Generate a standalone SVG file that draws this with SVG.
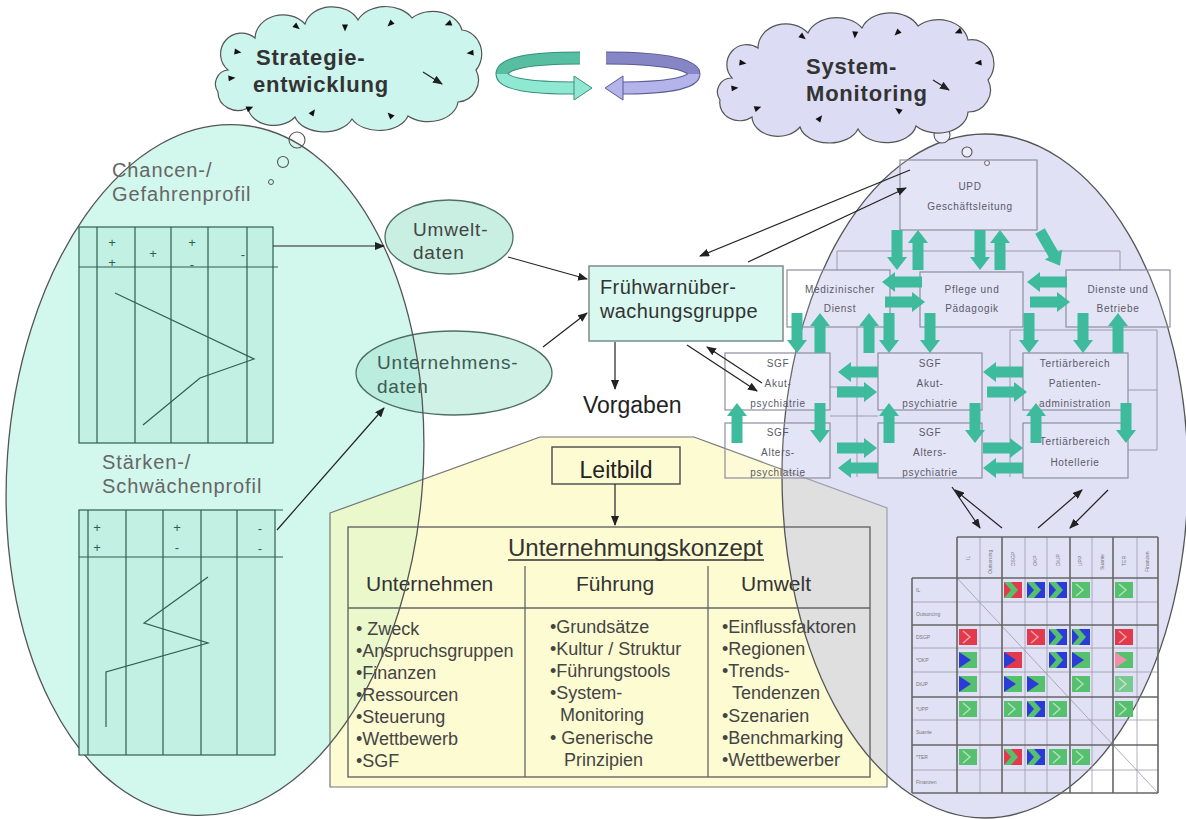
<svg xmlns="http://www.w3.org/2000/svg" width="1186" height="819" viewBox="0 0 1186 819">
<defs>
  <marker id="ah" markerWidth="10" markerHeight="8" refX="9" refY="4" orient="auto" markerUnits="userSpaceOnUse">
    <path d="M0,0 L10,4 L0,8 Z" fill="#222"/>
  </marker>
  <path id="ba" d="M0,-5.5 H27 V-10 L40,0 L27,10 V5.5 H0 Z"/>
  <path id="tri" d="M-3.5,-3 L3.5,0 L-3.5,3 Z"/>
  <ellipse id="leftEll" cx="215" cy="470" rx="208" ry="346" transform="rotate(4 215 470)"/>
  <ellipse id="rightEll" cx="985" cy="476" rx="203" ry="342"/>
</defs>
<style>
  .ln{stroke:#222;stroke-width:1.2;fill:none}
  .ga{fill:#3dbb9c}
  .obox{fill:#ffffff;fill-opacity:0.12;stroke:#8e8ea0;stroke-width:1.2}
  .frame{fill:none;stroke:#9a9aaa;stroke-width:1}
  .sm{font-family:"Liberation Sans",Arial,sans-serif;font-size:10px;fill:#5a5a66;text-anchor:middle;letter-spacing:0.7px}
  .tb{fill:#c2f0e2;stroke:#2f5f50;stroke-width:1.2}
  .tl{stroke:#2f5f50;stroke-width:1.2;fill:none}
  .sg{font-family:"Liberation Sans",Arial,sans-serif;font-size:13px;fill:#2f5f50;text-anchor:middle}
  .lbl{font-family:"Liberation Sans",Arial,sans-serif;font-size:20px;fill:#666;letter-spacing:0.9px}
  .nd{font-family:"Liberation Sans",Arial,sans-serif;font-size:19px;fill:#444;letter-spacing:0.8px}
  .cl{font-family:"Liberation Sans",Arial,sans-serif;font-size:22px;font-weight:bold;fill:#333;letter-spacing:0.8px}
  .kh{font-family:"Liberation Sans",Arial,sans-serif;font-size:21px;fill:#333}
  .kl{font-family:"Liberation Sans",Arial,sans-serif;font-size:18px;fill:#444}
  .mx{stroke:#9a9aa8;stroke-width:0.8;fill:none}
  .mX{stroke:#666;stroke-width:1.6;fill:none}
  .mt{font-family:"Liberation Sans",Arial,sans-serif;font-size:5px;fill:#777}
  .cg{fill:#55c06e}.cr{fill:#e23a4c}.cb{fill:#2b3bd8}.cp{fill:#f08fa8}
  .hl{fill:none;stroke:#fff;stroke-opacity:0.55;stroke-width:1.4}
</style>

<!-- left ellipse background -->
<g id="analyse-ellipse-fill">
  <use href="#leftEll" fill="#d2f7ed"/>
</g>

<!-- Leitbild house -->
<g id="leitbild-house">
  <polygon points="330,513 540,437 694,437 887,508 887,787 330,787" fill="#fcf8b4" fill-opacity="0.6" stroke="#777" stroke-width="1.2"/>
  <rect x="552" y="447" width="128" height="37" fill="none" stroke="#555" stroke-width="1.5"/>
  <text x="616" y="478" font-family="Liberation Sans, Arial, sans-serif" font-size="23" fill="#222" text-anchor="middle">Leitbild</text>
</g>

<!-- right ellipse background -->
<g id="monitoring-ellipse-fill">
  <use href="#rightEll" fill="#c3c3ee" fill-opacity="0.5"/>
</g>

<g id="unternehmungskonzept">
  <rect x="348" y="527" width="522" height="250" fill="none" stroke="#666" stroke-width="1.4"/>
  <text x="508" y="556" font-family="Liberation Sans, Arial, sans-serif" font-size="24" fill="#333">Unternehmungskonzept</text>
  <line x1="508" y1="560" x2="764" y2="560" stroke="#333" stroke-width="1.3"/>
  <line x1="525" y1="566" x2="525" y2="777" stroke="#666" stroke-width="1.3"/>
  <line x1="708" y1="566" x2="708" y2="777" stroke="#666" stroke-width="1.3"/>
  <line x1="348" y1="608" x2="870" y2="608" stroke="#666" stroke-width="1.3"/>
  <text class="kh" x="366" y="591">Unternehmen</text>
  <text class="kh" x="576" y="591">Führung</text>
  <text class="kh" x="741" y="591">Umwelt</text>
  <text class="kl" x="356"><tspan x="356" y="635">• Zweck</tspan><tspan x="356" y="657">•Anspruchsgruppen</tspan><tspan x="356" y="679">•Finanzen</tspan><tspan x="356" y="701">•Ressourcen</tspan><tspan x="356" y="723">•Steuerung</tspan><tspan x="356" y="745">•Wettbewerb</tspan><tspan x="356" y="767">•SGF</tspan></text>
  <text class="kl" x="550"><tspan x="550" y="633">•Grundsätze</tspan><tspan x="550" y="655">•Kultur / Struktur</tspan><tspan x="550" y="677">•Führungstools</tspan><tspan x="550" y="699">•System-</tspan><tspan x="560" y="721">Monitoring</tspan><tspan x="550" y="744">• Generische</tspan><tspan x="564" y="766">Prinzipien</tspan></text>
  <text class="kl" x="722"><tspan x="722" y="633">•Einflussfaktoren</tspan><tspan x="722" y="655">•Regionen</tspan><tspan x="722" y="677">•Trends-</tspan><tspan x="732" y="699">Tendenzen</tspan><tspan x="722" y="722">•Szenarien</tspan><tspan x="722" y="744">•Benchmarking</tspan><tspan x="722" y="766">•Wettbewerber</tspan></text>
</g>

<!-- data ellipses -->
<g id="umweltdaten">
  <ellipse cx="449" cy="237" rx="64" ry="37" fill="#c9efe3" stroke="#4f6f66" stroke-width="1.3"/>
  <text class="nd"><tspan x="413" y="236">Umwelt-</tspan><tspan x="413" y="259">daten</tspan></text>
</g>
<g id="unternehmensdaten">
  <ellipse cx="454" cy="373" rx="98" ry="42" fill="#a8e6d2" fill-opacity="0.55" stroke="#4f6f66" stroke-width="1.3"/>
  <text class="nd" fill="#3d5a54" style="fill:#3d5a54"><tspan x="377" y="369">Unternehmens-</tspan><tspan x="377" y="393">daten</tspan></text>
</g>

<!-- left ellipse outline -->
<g id="analyse-ellipse">
  <use href="#leftEll" fill="none" stroke="#555" stroke-width="1.3"/>
  <circle cx="297" cy="140" r="8" fill="none" stroke="#555" stroke-width="1.1"/>
  <circle cx="283" cy="162" r="5.5" fill="none" stroke="#555" stroke-width="1.1"/>
  <circle cx="271" cy="182" r="2.5" fill="none" stroke="#555" stroke-width="1"/>
</g>
<g id="chancen-profil">
  <text class="lbl"><tspan x="112" y="177">Chancen-/</tspan><tspan x="112" y="201">Gefahrenprofil</tspan></text>
  <rect class="tb" x="79" y="227" width="194" height="216"/>
  <path class="tl" d="M97,227V443M135,227V443M171,227V443M208,227V443M247,227V443M79,267H278"/>
  <text class="sg" x="112" y="247">+</text><text class="sg" x="112" y="267">+</text>
  <text class="sg" x="153" y="258">+</text><text class="sg" x="192" y="247">+</text>
  <text class="sg" x="192" y="269">-</text><text class="sg" x="243" y="259">-</text>
  <polyline class="tl" points="115,293 254,359 200,378 143,425"/>
</g>
<g id="staerken-profil">
  <text class="lbl"><tspan x="102" y="469">Stärken-/</tspan><tspan x="102" y="493">Schwächenprofil</tspan></text>
  <rect class="tb" x="79" y="510" width="196" height="245"/>
  <path class="tl" d="M88,510V755M126,510V755M163,510V755M201,510V755M237,510V755M79,557H283M275,510H283"/>
  <text class="sg" x="97" y="532">+</text><text class="sg" x="97" y="552">+</text>
  <text class="sg" x="177" y="532">+</text><text class="sg" x="177" y="552">-</text>
  <text class="sg" x="260" y="533">-</text><text class="sg" x="260" y="553">-</text>
  <polyline class="tl" points="208,577 144,623 208,643 106,672 106,727"/>
</g>

<!-- right ellipse outline -->
<g id="monitoring-ellipse">
  <use href="#rightEll" fill="none" stroke="#555" stroke-width="1.3"/>
  <circle cx="942" cy="135" r="8" fill="#ececfa" stroke="#555" stroke-width="1.1"/>
  <circle cx="967" cy="152" r="5" fill="#ececfa" stroke="#555" stroke-width="1.1"/>
  <circle cx="987" cy="163" r="2.5" fill="#ececfa" stroke="#555" stroke-width="1"/>
</g>

<!-- org chart -->
<g id="org-frames">
  <path class="frame" d="M837,270V251H1120V270M857,327V477M1010,330V477M1010,330H1157V450H1128M1128,390H1157M830,387H857M830,416H878"/>
</g>
<g id="upd"><rect class="obox" x="900" y="160" width="137" height="70"/><text class="sm"><tspan x="970" y="190">UPD</tspan><tspan x="970" y="210">Geschäftsleitung</tspan></text></g>
<g id="med"><rect class="obox" x="787" y="270" width="103" height="57"/><text class="sm"><tspan x="840" y="293">Medizinischer</tspan><tspan x="840" y="312">Dienst</tspan></text></g>
<g id="pflege"><rect class="obox" x="920" y="272" width="103" height="55"/><text class="sm"><tspan x="972" y="293">Pflege und</tspan><tspan x="972" y="312">Pädagogik</tspan></text></g>
<g id="dienste"><rect class="obox" x="1066" y="270" width="104" height="57"/><text class="sm"><tspan x="1118" y="293">Dienste und</tspan><tspan x="1118" y="312">Betriebe</tspan></text></g>
<g id="sgf-akut-1"><rect class="obox" x="725" y="353" width="105" height="57"/><text class="sm"><tspan x="778" y="367">SGF</tspan><tspan x="778" y="387">Akut-</tspan><tspan x="778" y="407">psychiatrie</tspan></text></g>
<g id="sgf-alters-1"><rect class="obox" x="725" y="423" width="105" height="55"/><text class="sm"><tspan x="778" y="436">SGF</tspan><tspan x="778" y="456">Alters-</tspan><tspan x="778" y="476">psychiatrie</tspan></text></g>
<g id="sgf-akut-2"><rect class="obox" x="878" y="353" width="104" height="57"/><text class="sm"><tspan x="930" y="367">SGF</tspan><tspan x="930" y="387">Akut-</tspan><tspan x="930" y="407">psychiatrie</tspan></text></g>
<g id="sgf-alters-2"><rect class="obox" x="878" y="423" width="104" height="55"/><text class="sm"><tspan x="930" y="436">SGF</tspan><tspan x="930" y="456">Alters-</tspan><tspan x="930" y="476">psychiatrie</tspan></text></g>
<g id="tert-patienten"><rect class="obox" x="1023" y="353" width="105" height="57"/><text class="sm"><tspan x="1075" y="367">Tertiärbereich</tspan><tspan x="1075" y="387">Patienten-</tspan><tspan x="1075" y="407">administration</tspan></text></g>
<g id="tert-hotellerie"><rect class="obox" x="1023" y="423" width="105" height="55"/><text class="sm"><tspan x="1075" y="445">Tertiärbereich</tspan><tspan x="1075" y="466">Hotellerie</tspan></text></g>

<g id="block-arrows" class="ga">
  <use href="#ba" transform="translate(897,230) rotate(90)"/>
  <use href="#ba" transform="translate(918,270) rotate(-90)"/>
  <use href="#ba" transform="translate(980,230) rotate(90)"/>
  <use href="#ba" transform="translate(1000,270) rotate(-90)"/>
  <use href="#ba" transform="translate(1040,231) rotate(60)"/>
  <use href="#ba" transform="translate(797,313) rotate(90)"/>
  <use href="#ba" transform="translate(820,353) rotate(-90)"/>
  <use href="#ba" transform="translate(869,353) rotate(-90)"/>
  <use href="#ba" transform="translate(889,313) rotate(90)"/>
  <use href="#ba" transform="translate(930,313) rotate(90)"/>
  <use href="#ba" transform="translate(1029,313) rotate(90)"/>
  <use href="#ba" transform="translate(1083,313) rotate(90)"/>
  <use href="#ba" transform="translate(1118,353) rotate(-90)"/>
  <use href="#ba" transform="translate(737,443) rotate(-90)"/>
  <use href="#ba" transform="translate(820,403) rotate(90)"/>
  <use href="#ba" transform="translate(889,443) rotate(-90)"/>
  <use href="#ba" transform="translate(975,403) rotate(90)"/>
  <use href="#ba" transform="translate(1036,443) rotate(-90)"/>
  <use href="#ba" transform="translate(1126,403) rotate(90)"/>
  <use href="#ba" transform="translate(922,282) rotate(180)"/>
  <use href="#ba" transform="translate(885,302)"/>
  <use href="#ba" transform="translate(1067,282) rotate(180)"/>
  <use href="#ba" transform="translate(1030,302)"/>
  <use href="#ba" transform="translate(878,372) rotate(180)"/>
  <use href="#ba" transform="translate(837,392)"/>
  <use href="#ba" transform="translate(1023,372) rotate(180)"/>
  <use href="#ba" transform="translate(987,392)"/>
  <use href="#ba" transform="translate(837,448)"/>
  <use href="#ba" transform="translate(878,468) rotate(180)"/>
  <use href="#ba" transform="translate(983,448)"/>
  <use href="#ba" transform="translate(1023,468) rotate(180)"/>
</g>

<!-- matrix -->
<g id="matrix">
  <path class="mx" d="M980,537V793M1025,537V793M1047,537V793M1092,537V793M1137,537V793M912,602H1158M912,648H1158M912,672H1158M912,720H1158M912,770H1158"/>
  <path class="mx" d="M957,578L1158,793"/>
  <path class="mX" d="M957,537V793M1002,537V793M1070,537V793M1113,537V793M1158,537V793M957,537H1158M912,578H1158M912,625H1158M912,697H1158M912,745H1158M912,793H1158M912,578V793"/>
  <g class="mt">
    <text x="916" y="592">IL</text><text x="916" y="616">Outsorcing</text><text x="916" y="639">DSGP</text>
    <text x="916" y="662">*OKP</text><text x="916" y="686">DtUP</text><text x="916" y="711">*UPP</text>
    <text x="916" y="734">Suante</text><text x="916" y="759">*TER</text><text x="916" y="784">Finanzen</text>
    <text transform="translate(970,560) rotate(-90)">IL</text>
    <text transform="translate(992,574) rotate(-90)">Outsorcing</text>
    <text transform="translate(1015,566) rotate(-90)">DSGP</text>
    <text transform="translate(1037,566) rotate(-90)">OKP</text>
    <text transform="translate(1060,566) rotate(-90)">DtUP</text>
    <text transform="translate(1082,566) rotate(-90)">UPP</text>
    <text transform="translate(1104,570) rotate(-90)">Suante</text>
    <text transform="translate(1126,566) rotate(-90)">TER</text>
    <text transform="translate(1149,572) rotate(-90)">Finanzen</text>
  </g>
  <g transform="translate(1004,582)"><rect width="18" height="16" class="cr"/><path d="M0,0H7L14,8L7,16H0L7,8Z" class="cg"/></g>
  <g transform="translate(1027,582)"><rect width="18" height="16" class="cb"/><path d="M0,0H7L14,8L7,16H0L7,8Z" class="cg"/></g>
  <g transform="translate(1049,582)"><rect width="18" height="16" class="cb"/><path d="M0,0H7L14,8L7,16H0L7,8Z" class="cg"/></g>
  <g transform="translate(1072,582)"><rect width="18" height="16" class="cg"/><path d="M4,2L11,8L4,14" class="hl"/></g>
  <g transform="translate(1115,582)"><rect width="18" height="16" class="cg"/><path d="M4,2L11,8L4,14" class="hl"/></g>
  <g transform="translate(959,629)"><rect width="18" height="16" class="cr"/><path d="M4,2L11,8L4,14" class="hl"/></g>
  <g transform="translate(1027,629)"><rect width="18" height="16" class="cr"/><path d="M4,2L11,8L4,14" class="hl"/></g>
  <g transform="translate(1049,629)"><rect width="18" height="16" class="cb"/><path d="M0,0H7L14,8L7,16H0L7,8Z" class="cg"/></g>
  <g transform="translate(1072,629)"><rect width="18" height="16" class="cb"/><path d="M0,0H7L14,8L7,16H0L7,8Z" class="cg"/></g>
  <g transform="translate(1115,629)"><rect width="18" height="16" class="cr"/><path d="M4,2L11,8L4,14" class="hl"/></g>
  <g transform="translate(959,652)"><rect width="18" height="16" class="cg"/><path d="M0,0L12,8L0,16Z" class="cb"/></g>
  <g transform="translate(1004,652)"><rect width="18" height="16" class="cr"/><path d="M0,0L12,8L0,16Z" class="cb"/></g>
  <g transform="translate(1049,652)"><rect width="18" height="16" class="cb"/><path d="M0,0H7L14,8L7,16H0L7,8Z" class="cg"/></g>
  <g transform="translate(1072,652)"><rect width="18" height="16" class="cg"/><path d="M0,0L12,8L0,16Z" class="cb"/></g>
  <g transform="translate(1115,652)"><rect width="18" height="16" class="cg"/><path d="M0,0L12,8L0,16Z" class="cp"/></g>
  <g transform="translate(959,676)"><rect width="18" height="16" class="cg"/><path d="M0,0L12,8L0,16Z" class="cb"/></g>
  <g transform="translate(1004,676)"><rect width="18" height="16" class="cg"/><path d="M0,0L12,8L0,16Z" class="cb"/></g>
  <g transform="translate(1027,676)"><rect width="18" height="16" class="cg"/><path d="M0,0L12,8L0,16Z" class="cb"/></g>
  <g transform="translate(1072,676)"><rect width="18" height="16" class="cg"/><path d="M4,2L11,8L4,14" class="hl"/></g>
  <g transform="translate(1115,676)"><rect width="18" height="16" class="cg" fill-opacity="0.75"/><path d="M4,2L11,8L4,14" class="hl"/></g>
  <g transform="translate(959,701)"><rect width="18" height="16" class="cg"/><path d="M4,2L11,8L4,14" class="hl"/></g>
  <g transform="translate(1004,701)"><rect width="18" height="16" class="cg"/><path d="M4,2L11,8L4,14" class="hl"/></g>
  <g transform="translate(1027,701)"><rect width="18" height="16" class="cb"/><path d="M0,0H7L14,8L7,16H0L7,8Z" class="cg"/></g>
  <g transform="translate(1049,701)"><rect width="18" height="16" class="cg"/><path d="M4,2L11,8L4,14" class="hl"/></g>
  <g transform="translate(1115,701)"><rect width="18" height="16" class="cg"/><path d="M4,2L11,8L4,14" class="hl"/></g>
  <g transform="translate(959,749)"><rect width="18" height="16" class="cg"/><path d="M4,2L11,8L4,14" class="hl"/></g>
  <g transform="translate(1004,749)"><rect width="18" height="16" class="cr"/><path d="M0,0H7L14,8L7,16H0L7,8Z" class="cg"/></g>
  <g transform="translate(1027,749)"><rect width="18" height="16" class="cb"/><path d="M0,0H7L14,8L7,16H0L7,8Z" class="cg"/></g>
  <g transform="translate(1049,749)"><rect width="18" height="16" class="cg"/><path d="M4,2L11,8L4,14" class="hl"/></g>
  <g transform="translate(1072,749)"><rect width="18" height="16" class="cg"/><path d="M4,2L11,8L4,14" class="hl"/></g>
</g>

<!-- clouds -->
<g id="strategie-cloud">
  <path d="M228,70 A20,20 0 0 1 255,38 A28,24 0 0 1 305,24 A28,22 0 0 1 358,20 A30,22 0 0 1 412,18 A30,24 0 0 1 462,30 A22,24 0 0 1 476,70 A22,22 0 0 1 458,102 A30,22 0 0 1 408,116 A30,20 0 0 1 352,119 A30,20 0 0 1 295,117 A26,20 0 0 1 248,108 A20,18 0 0 1 218,92 A14,14 0 0 1 228,70 Z" fill="#ccf5ee" stroke="#555" stroke-width="1.2"/>
  <g fill="#111">
    <use href="#tri" transform="translate(297,27) rotate(40)"/>
    <use href="#tri" transform="translate(345,28) rotate(90)"/>
    <use href="#tri" transform="translate(390,24) rotate(136)"/>
    <use href="#tri" transform="translate(448,24) rotate(157)"/>
    <use href="#tri" transform="translate(470,53) rotate(174)"/>
    <use href="#tri" transform="translate(390,115) rotate(-133)"/>
    <use href="#tri" transform="translate(313,112) rotate(-55)"/>
    <use href="#tri" transform="translate(250,108) rotate(-23)"/>
    <use href="#tri" transform="translate(232,78) rotate(-6)"/>
    <use href="#tri" transform="translate(238,52) rotate(8)"/>
  </g>
  <line x1="423" y1="72" x2="442" y2="84" class="ln" stroke-width="1" marker-end="url(#ah)"/>
  <text class="cl"><tspan x="256" y="65">Strategie-</tspan><tspan x="253" y="92">entwicklung</tspan></text>
</g>
<g id="monitoring-cloud">
  <path d="M732,78 A20,20 0 0 1 758,48 A28,24 0 0 1 808,33 A30,22 0 0 1 862,28 A30,22 0 0 1 918,26 A30,24 0 0 1 968,40 A22,24 0 0 1 988,80 A22,22 0 0 1 968,112 A30,22 0 0 1 916,126 A30,20 0 0 1 858,129 A30,20 0 0 1 800,127 A26,20 0 0 1 752,117 A20,18 0 0 1 720,100 A14,14 0 0 1 732,78 Z" fill="#dcdcf4" stroke="#555" stroke-width="1.2"/>
  <g fill="#111">
    <use href="#tri" transform="translate(803,37) rotate(38)"/>
    <use href="#tri" transform="translate(855,35) rotate(94)"/>
    <use href="#tri" transform="translate(897,33) rotate(136)"/>
    <use href="#tri" transform="translate(958,32) rotate(157)"/>
    <use href="#tri" transform="translate(978,63) rotate(174)"/>
    <use href="#tri" transform="translate(898,110) rotate(-144)"/>
    <use href="#tri" transform="translate(820,118) rotate(-53)"/>
    <use href="#tri" transform="translate(758,108) rotate(-19)"/>
    <use href="#tri" transform="translate(735,88) rotate(-6)"/>
    <use href="#tri" transform="translate(743,63) rotate(7)"/>
  </g>
  <line x1="933" y1="80" x2="949" y2="90" class="ln" stroke-width="1" marker-end="url(#ah)"/>
  <text class="cl"><tspan x="806" y="74">System-</tspan><tspan x="806" y="101">Monitoring</tspan></text>
</g>
<g id="cycle-arrows">
  <path d="M580,58 C530,58 502,63 502,74" fill="none" stroke="#3a8f7a" stroke-width="13"/>
  <path d="M580,58 C530,58 502,63 502,74" fill="none" stroke="#58bea2" stroke-width="11"/>
  <path d="M502,74 C502,84 530,88 575,88" fill="none" stroke="#3a8f7a" stroke-width="13"/>
  <path d="M502,74 C502,84 530,88 575,88" fill="none" stroke="#8fe8d2" stroke-width="11"/>
  <polygon points="574,76 592,88 574,100" fill="#8fe8d2" stroke="#3a8f7a" stroke-width="1"/>
  <path d="M606,58 C656,58 694,63 694,74" fill="none" stroke="#5a5a96" stroke-width="13"/>
  <path d="M606,58 C656,58 694,63 694,74" fill="none" stroke="#8686c6" stroke-width="11"/>
  <path d="M694,74 C694,84 662,88 622,88" fill="none" stroke="#5a5a96" stroke-width="13"/>
  <path d="M694,74 C694,84 662,88 622,88" fill="none" stroke="#b4b4ea" stroke-width="11"/>
  <polygon points="623,76 605,88 623,100" fill="#b4b4ea" stroke="#5a5a96" stroke-width="1"/>
</g>

<!-- Frühwarn group -->
<g id="fruehwarn">
  <rect x="589" y="266" width="194" height="75" fill="#d8f8f0" stroke="#7d8c88" stroke-width="1.5"/>
  <text font-family="Liberation Sans, Arial, sans-serif" font-size="20" fill="#333" letter-spacing="0.4"><tspan x="600" y="294">Frühwarnüber-</tspan><tspan x="600" y="318">wachungsgruppe</tspan></text>
</g>
<g id="vorgaben">
  <text x="583" y="413" font-family="Liberation Sans, Arial, sans-serif" font-size="23" fill="#222">Vorgaben</text>
</g>

<!-- connectors -->
<g id="connectors" class="ln">
  <line x1="273" y1="246" x2="384" y2="246" marker-end="url(#ah)"/>
  <line x1="277" y1="530" x2="384" y2="408" marker-end="url(#ah)"/>
  <line x1="508" y1="257" x2="587" y2="279" marker-end="url(#ah)"/>
  <line x1="543" y1="347" x2="587" y2="313" marker-end="url(#ah)"/>
  <line x1="615" y1="342" x2="615" y2="389" marker-end="url(#ah)"/>
  <line x1="615" y1="484" x2="615" y2="525" marker-end="url(#ah)"/>
  <line x1="910" y1="170" x2="700" y2="256" marker-end="url(#ah)"/>
  <line x1="748" y1="262" x2="906" y2="188" marker-end="url(#ah)"/>
  <line x1="687" y1="345" x2="757" y2="391" marker-end="url(#ah)"/>
  <line x1="762" y1="383" x2="707" y2="347" marker-end="url(#ah)"/>
  <line x1="952" y1="487" x2="980" y2="528" marker-end="url(#ah)"/>
  <line x1="1002" y1="528" x2="955" y2="490" marker-end="url(#ah)"/>
  <line x1="1038" y1="528" x2="1082" y2="490" marker-end="url(#ah)"/>
  <line x1="1108" y1="490" x2="1070" y2="528" marker-end="url(#ah)"/>
</g>
</svg>
